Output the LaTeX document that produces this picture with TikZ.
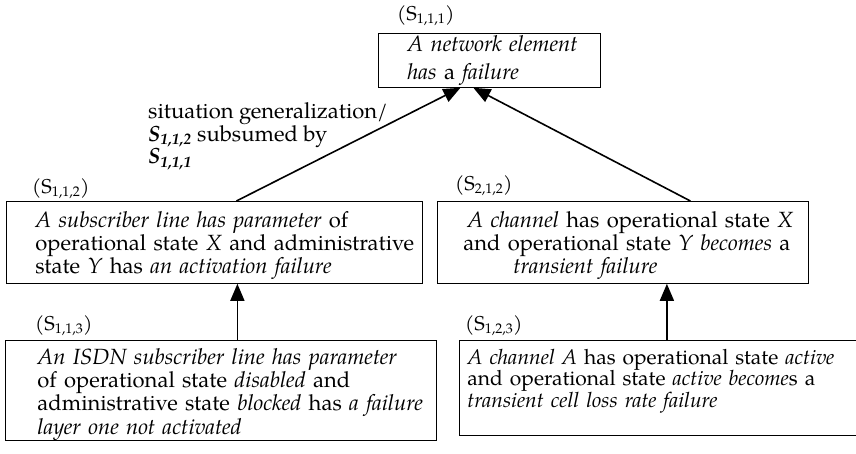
\documentclass[tikz,border=0pt]{standalone}
\usepackage{fontspec}
\setmainfont{TeX Gyre Pagella}
\usetikzlibrary{arrows.meta,positioning}

\tikzset{
  sitbox/.style={draw, line width=0.8pt, anchor=north west, align=left,
    inner xsep=4pt, inner ysep=0pt, font=\fontsize{22}{21.5}\selectfont},
  indent/.style={execute at begin node={\leftskip=#1\relax}},
  sitlabel/.style={anchor=base west, inner sep=0pt, font=\fontsize{20}{21.5}\selectfont},
  genarrow/.style={-{Triangle[length=17pt,width=14pt]}, line width=1.6pt}
}
% taller first line pushes the text block down in its box
\newcommand{\firstline}[1]{\rule{0pt}{#1}}

\begin{document}
\begin{tikzpicture}[x=1pt,y=1pt]
     \useasboundingbox (0,0) rectangle (856,-453);
     % situation boxes
     \node[sitbox, indent=25pt, text width=214pt, minimum height=54pt] (s111) at (378,-33)
       {\textit{A network element}\\[6.5pt] \textit{has} a \textit{failure}};
     \node[sitbox, indent=25pt, text width=408pt, minimum height=82pt] (s112) at (6,-201)
       {\firstline{22pt}\textit{A subscriber line has parameter} of\\
        operational state \textit{X} and administrative\\
        state \textit{Y} has \textit{an activation failure}};
     \node[sitbox, indent=22pt, text width=363pt, minimum height=82pt] (s212) at (437,-201)
       {\firstline{22pt}\hspace*{4pt}\textit{A channel} has operational state \textit{X}\\
        and operational state \textit{Y becomes} a\\
        \hspace*{50pt}\textit{transient failure}};
     \node[sitbox, indent=28pt, text width=423pt, minimum height=93pt] (s113) at (5,-340)
       {\firstline{24pt}\textit{An ISDN subscriber line has parameter}\\
        of operational state \textit{disabled} and\\
        administrative state \textit{blocked} has \textit{a failure}\\
        \textit{layer one not activated}};
     \node[sitbox, indent=4pt, text width=403pt, minimum height=93pt,
       font=\fontsize{21}{21.5}\selectfont] (s123) at (459,-340)
       {\firstline{24pt}\textit{A channel A} has operational state \textit{active}\\
        and operational state \textit{active become}s a\\
        \textit{transient cell loss rate failure}\\
        \strut};
     % situation names
     \node[sitlabel] (l111) at ([shift={(19,13)}]s111.north west) {(S\textsubscript{1,1,1})};
     \node[sitlabel] (l112) at ([shift={(26,8)}]s112.north west) {(S\textsubscript{1,1,2})};
     \node[sitlabel] (l212) at ([shift={(18,11)}]s212.north west) {(S\textsubscript{2,1,2})};
     \node[sitlabel] (l113) at ([shift={(30,10)}]s113.north west) {(S\textsubscript{1,1,3})};
     \node[sitlabel] (l123) at ([shift={(6,10)}]s123.north west) {(S\textsubscript{1,2,3})};
     % generalization arrows
     \draw[genarrow] ([xshift=22pt]s112.north) -- ([xshift=-29pt]s111.south);
     \draw[genarrow] ([xshift=67.5pt]s212.north) -- ([xshift=-16pt]s111.south);
     \draw[genarrow] ([xshift=16.5pt]s113.north) -- ([xshift=16.5pt]s113.north |- s112.south);
     \draw[genarrow] ([xshift=2pt]s123.north) -- ([xshift=2pt]s123.north |- s212.south);
     \node[sitlabel, anchor=north west, align=left, font=\fontsize{22}{21.5}\selectfont] (gen) at (148,-102)
       {situation generalization/\\
        \textbf{\textit{S\textsubscript{1,1,2}}} subsumed by\\
        \textbf{\textit{S\textsubscript{1,1,1}}}};
\end{tikzpicture}
\end{document}
